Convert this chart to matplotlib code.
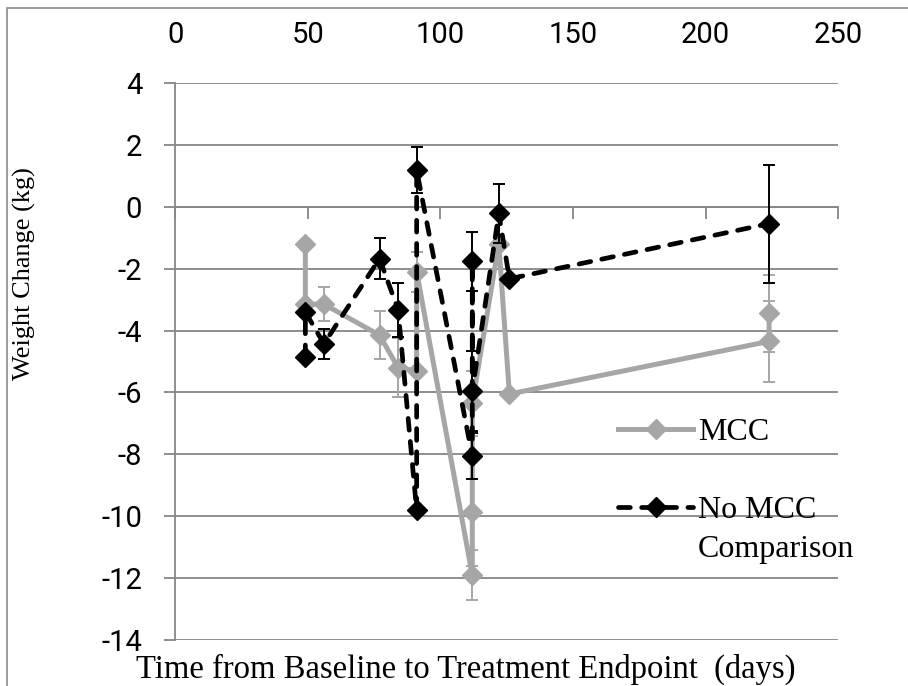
import numpy as np
import matplotlib
matplotlib.use('Agg')
import matplotlib.pyplot as plt
from matplotlib.lines import Line2D
from matplotlib.patches import Rectangle

# data
days_mcc = [49, 49, 56, 77, 84, 91, 91, 112, 112, 112, 122, 126, 224, 224]
wt_mcc = [-1.2, -3.15, -3.15, -4.15, -5.2, -5.3, -2.1, -11.9, -9.85, -6.35, -1.2, -6.05, -4.35, -3.45]
err_mcc = [0, 0, 0.55, 0.78, 0.95, 0, 0.65, 0.8, 1.75, 1.05, 0, 0, 1.3, 1.24]

days_nomcc = [49, 49, 56, 77, 84, 91, 91, 112, 112, 112, 122, 126, 224]
wt_nomcc = [-4.85, -3.4, -4.43, -1.68, -3.33, -9.8, 1.18, -8.05, -1.76, -5.95, -0.22, -2.33, -0.55]
err_nomcc = [0, 0, 0.48, 0.67, 0.88, 0, 0.73, 0.74, 0.95, 1.3, 0.95, 0, 1.9]

x_ticks = [0, 50, 100, 150, 200, 250]
y_ticks = [-14, -12, -10, -8, -6, -4, -2, 0, 2, 4]

gray = '#a6a6a6'
grid_c = '#868686'
dash = (0, (2.5, 2.4))

fig = plt.figure(figsize=(9.08, 6.86), dpi=100)
ax = fig.add_axes([0.19328, 0.06662, 0.72963, 0.81283])

# error bars under the lines
ax.errorbar(days_mcc, wt_mcc, yerr=err_mcc, fmt='none', ecolor=gray,
            elinewidth=1.4, capsize=4.3, capthick=1.4, zorder=3)
ax.plot(days_mcc, wt_mcc, color=gray, lw=3.6, marker='D', ms=10.5,
        solid_joinstyle='round', zorder=4)
ax.errorbar(days_nomcc, wt_nomcc, yerr=err_nomcc, fmt='none', ecolor='black',
            elinewidth=1.4, capsize=4.3, capthick=1.4, zorder=5)
ax.plot(days_nomcc, wt_nomcc, color='black', lw=3.4, ls=dash, marker='D', ms=10.5,
        dash_capstyle='round', zorder=6)

ax.set_xlim(0, 250)
ax.set_ylim(-14, 4)
ax.set_xticks(x_ticks)
ax.set_yticks(y_ticks)
ax.set_yticklabels([str(v) for v in y_ticks])

ax.yaxis.grid(True, color=grid_c, lw=1.3)
ax.set_axisbelow(True)

for s in ['top', 'right']:
    ax.spines[s].set_visible(False)
ax.spines['bottom'].set_position(('data', 0))
for s in ['left', 'bottom']:
    ax.spines[s].set_color(grid_c)
    ax.spines[s].set_linewidth(1.3)

ax.tick_params(axis='x', bottom=True, top=False, labelbottom=False, labeltop=True,
               direction='out', length=8.5, width=1.3, color=grid_c, pad=16)
ax.tick_params(axis='y', direction='out', length=8, width=1.3, color=grid_c, pad=16)
for lab in ax.get_xticklabels() + ax.get_yticklabels():
    lab.set_fontfamily('Roboto')
    lab.set_fontsize(21)

fig.text(24 / 908, 1 - 274 / 686, 'Weight Change (kg)', rotation=90,
         ha='center', va='center', family='Liberation Serif', fontsize=19)
fig.text(465.5 / 908, 1 - 669 / 686, 'Time from Baseline to Treatment Endpoint  (days)',
         ha='center', va='center', family='Liberation Serif', fontsize=23.5)

# legend, four rows so the second entry lines up with its first text line
handles = [Line2D([], [], color=gray, lw=3.6, marker='D', ms=10.5),
           Line2D([], [], color='none'),
           Line2D([], [], color='black', lw=3.4, ls=dash, marker='D', ms=10.5,
                  dash_capstyle='round'),
           Line2D([], [], color='none')]
labels = ['MCC', ' ', 'No MCC', 'Comparison']
leg = ax.legend(handles, labels, loc='upper left',
                bbox_to_anchor=(618 / 908, 1 - 418 / 686), bbox_transform=fig.transFigure,
                frameon=False, borderpad=0, borderaxespad=0, handlelength=2.35,
                handletextpad=0.15, labelspacing=0.3,
                prop={'family': 'Liberation Serif', 'size': 23})

# thin frame round the whole chart
fig.patches.append(Rectangle((7 / 908, -0.05), 1.2, 1.05 - 8 / 686, transform=fig.transFigure,
                             fill=False, edgecolor='#8c8c8c', lw=1.2))

fig.savefig('out.png', dpi=100)
